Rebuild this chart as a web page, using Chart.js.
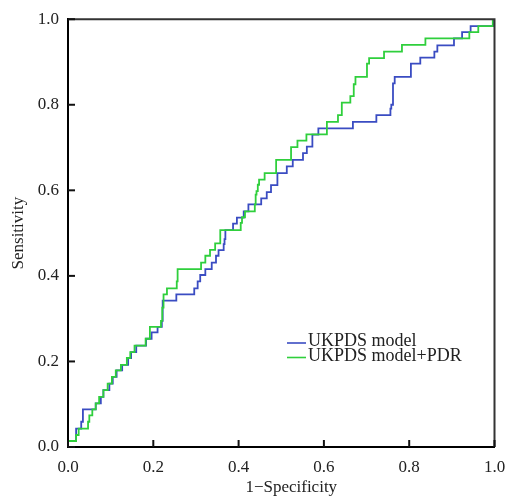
<!DOCTYPE html>
<html>
<head>
<meta charset="utf-8">
<script src="https://cdn.jsdelivr.net/npm/chart.js@4.4.1/dist/chart.umd.min.js"></script>
<style>
  html, body { margin: 0; padding: 0; background: #fff; }
  #wrap { width: 505px; height: 497px; position: relative; }
</style>
</head>
<body>
<div id="wrap"><canvas id="roc"></canvas></div>
<script>
// ROC curves (x = 1-specificity, y = sensitivity)
const seriesNames = ['UKPDS model', 'UKPDS model+PDR'];

const fprUkpds = [0, 0, 0.019, 0.031, 0.035, 0.065, 0.077, 0.083, 0.097, 0.105,
  0.114, 0.127, 0.141, 0.148, 0.160, 0.183, 0.196, 0.210, 0.220, 0.222,
  0.254, 0.296, 0.304, 0.310, 0.322, 0.337, 0.347, 0.353, 0.365, 0.367,
  0.369, 0.387, 0.396, 0.412, 0.423, 0.453, 0.466, 0.476, 0.491, 0.513,
  0.527, 0.551, 0.560, 0.573, 0.587, 0.668, 0.723, 0.756, 0.758, 0.762,
  0.766, 0.804, 0.826, 0.859, 0.866, 0.905, 0.924, 0.944, 0.998, 1.0];
const tprUkpds = [0, 0.014, 0.043, 0.059, 0.088, 0.102, 0.117, 0.133, 0.148, 0.164,
  0.179, 0.192, 0.208, 0.222, 0.237, 0.253, 0.268, 0.281, 0.295, 0.342,
  0.357, 0.371, 0.387, 0.402, 0.416, 0.431, 0.447, 0.460, 0.474, 0.486,
  0.507, 0.522, 0.536, 0.551, 0.567, 0.581, 0.596, 0.612, 0.640, 0.656,
  0.671, 0.687, 0.702, 0.730, 0.745, 0.760, 0.776, 0.791, 0.800, 0.850,
  0.865, 0.896, 0.910, 0.924, 0.939, 0.955, 0.970, 0.984, 1.0, 1.0];

const fprPdr = [0, 0, 0.019, 0.025, 0.047, 0.050, 0.057, 0.065, 0.073, 0.083,
  0.093, 0.103, 0.112, 0.124, 0.138, 0.146, 0.156, 0.182, 0.192, 0.218,
  0.221, 0.224, 0.232, 0.255, 0.257, 0.312, 0.322, 0.333, 0.345, 0.357,
  0.405, 0.408, 0.415, 0.438, 0.440, 0.442, 0.445, 0.448, 0.461, 0.488,
  0.523, 0.538, 0.559, 0.607, 0.633, 0.642, 0.662, 0.670, 0.674, 0.701,
  0.706, 0.741, 0.783, 0.838, 0.941, 0.962, 0.996, 1.0];
const tprPdr = [0, 0.014, 0.028, 0.043, 0.059, 0.074, 0.088, 0.102, 0.117, 0.133,
  0.148, 0.164, 0.179, 0.192, 0.208, 0.222, 0.237, 0.253, 0.281, 0.295,
  0.326, 0.357, 0.371, 0.387, 0.416, 0.431, 0.447, 0.461, 0.476, 0.507,
  0.524, 0.537, 0.551, 0.567, 0.590, 0.598, 0.613, 0.625, 0.640, 0.671,
  0.701, 0.716, 0.731, 0.760, 0.776, 0.805, 0.820, 0.848, 0.865, 0.896,
  0.909, 0.924, 0.940, 0.955, 0.970, 0.984, 1.0, 1.0];

const tickValues = [0, 0.2, 0.4, 0.6, 0.8, 1.0];
const xTitle = '1\u2212Specificity';
const yTitle = 'Sensitivity';

const FONT = "'Liberation Serif', 'DejaVu Serif', serif";
const colors = ['#3a4cc2', '#2fcf3c'];

function toPoints(xs, ys) {
  return xs.map((x, i) => ({ x: x, y: ys[i] }));
}

// frame, inward ticks, x title and the legend box inside the plot
const decorations = {
  id: 'decorations',
  afterDatasetsDraw(chart) {
    const { ctx, chartArea: a, scales: { x, y } } = chart;
    ctx.save();
    ctx.strokeStyle = '#333';
    ctx.lineWidth = 2;
    ctx.beginPath();
    ctx.moveTo(a.left, a.top);
    ctx.lineTo(a.right, a.top);
    ctx.lineTo(a.right, a.bottom);
    ctx.stroke();

    ctx.strokeStyle = '#111';
    x.ticks.forEach(t => {
      const px = x.getPixelForValue(t.value);
      ctx.beginPath();
      ctx.moveTo(px, a.bottom);
      ctx.lineTo(px, a.bottom - 7);
      ctx.stroke();
    });
    y.ticks.forEach(t => {
      const py = y.getPixelForValue(t.value);
      ctx.beginPath();
      ctx.moveTo(a.left, py);
      ctx.lineTo(a.left + 7, py);
      ctx.stroke();
    });

    // x axis title sits a little right of centre in the original
    ctx.fillStyle = '#222';
    ctx.font = '17px ' + FONT;
    ctx.textAlign = 'center';
    ctx.textBaseline = 'middle';
    ctx.fillText(xTitle, (a.left + a.right) / 2 + 10, 488);

    // legend
    ctx.font = '18px ' + FONT;
    ctx.textBaseline = 'alphabetic';
    ctx.textAlign = 'left';
    chart.data.datasets.forEach((ds, i) => {
      const ly = 343 + i * 14.5;
      ctx.strokeStyle = ds.borderColor;
      ctx.lineWidth = 1.6;
      ctx.beginPath();
      ctx.moveTo(287, ly);
      ctx.lineTo(306, ly);
      ctx.stroke();
      ctx.fillStyle = '#222';
      ctx.fillText(ds.label, 308, ly + 3);
    });
    ctx.restore();
  }
};

new Chart(document.getElementById('roc'), {
  type: 'line',
  data: {
    datasets: [
      {
        label: seriesNames[0],
        data: toPoints(fprUkpds, tprUkpds),
        borderColor: colors[0],
        borderWidth: 1.8,
        stepped: 'before',
        pointRadius: 0,
        fill: false,
        order: 2
      },
      {
        label: seriesNames[1],
        data: toPoints(fprPdr, tprPdr),
        borderColor: colors[1],
        borderWidth: 1.8,
        stepped: 'before',
        pointRadius: 0,
        fill: false,
        order: 1
      }
    ]
  },
  options: {
    responsive: true,
    maintainAspectRatio: false,
    animation: false,
    layout: { padding: { top: 17, right: 0, left: 0, bottom: 0 } },
    plugins: {
      legend: { display: false },
      tooltip: { enabled: false }
    },
    scales: {
      x: {
        type: 'linear',
        min: 0,
        max: 1,
        afterBuildTicks: s => { s.ticks = tickValues.map(v => ({ value: v })); },
        afterFit: s => { s.height = 50; s.paddingRight = 10.5; s.paddingLeft = 0; },
        grid: { display: false, drawTicks: false },
        border: { color: '#000', width: 2 },
        ticks: {
          padding: 10,
          color: '#222',
          font: { family: FONT, size: 17 },
          callback: v => v.toFixed(1)
        },
        title: { display: false }
      },
      y: {
        type: 'linear',
        min: 0,
        max: 1,
        afterBuildTicks: s => { s.ticks = tickValues.map(v => ({ value: v })); },
        afterFit: s => { s.width = 68; },
        grid: { display: false, drawTicks: false },
        border: { color: '#000', width: 2 },
        ticks: {
          padding: 9,
          color: '#222',
          font: { family: FONT, size: 17 },
          callback: v => v.toFixed(1)
        },
        title: {
          display: true,
          text: yTitle,
          color: '#222',
          font: { family: FONT, size: 17 },
          padding: { top: 8, bottom: 0 }
        }
      }
    }
  },
  plugins: [decorations]
});
</script>
</body>
</html>
